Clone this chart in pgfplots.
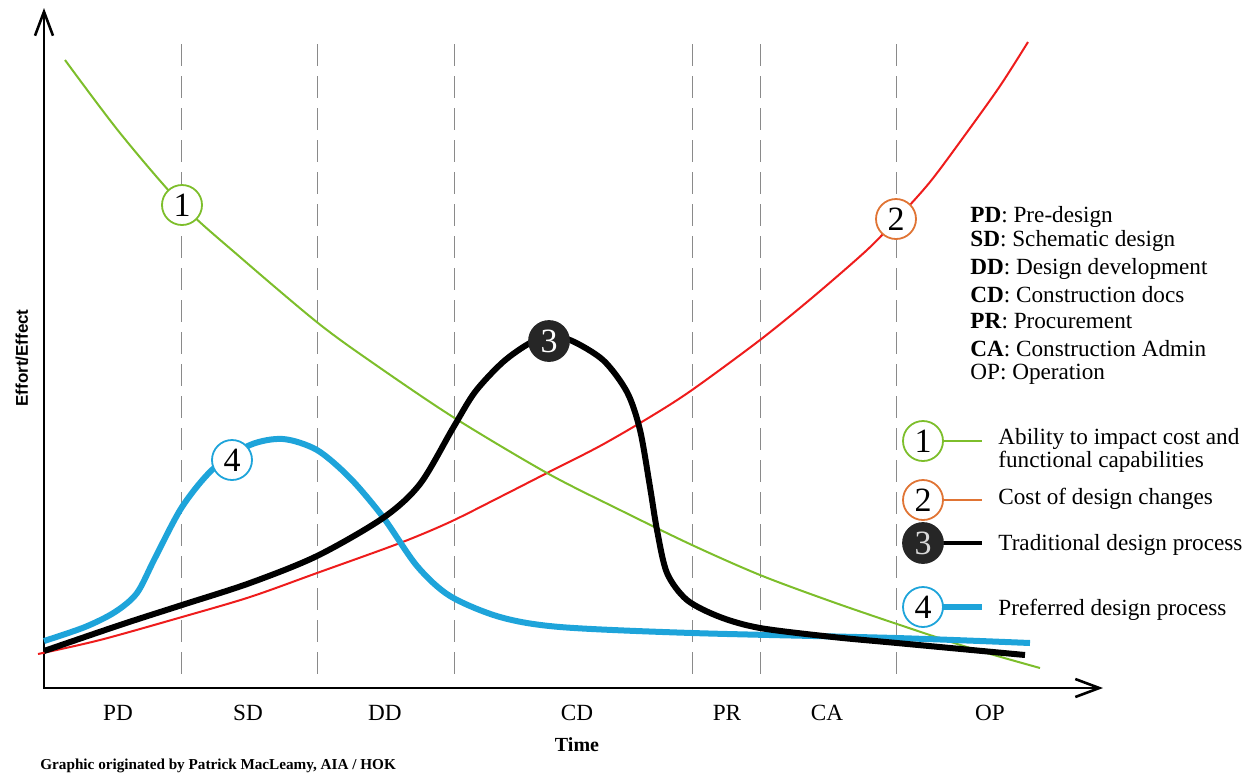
\documentclass[border=0pt]{standalone}
\usepackage{pgfplots}
\pgfplotsset{compat=1.18}
\usepackage{fontspec}
\setmainfont{Liberation Serif}
\newfontfamily\arialfont{Liberation Sans}
\usetikzlibrary{arrows.meta}

\definecolor{cgreen}{HTML}{7DBE2B}
\definecolor{cred}{HTML}{EE1C1C}
\definecolor{corange}{HTML}{E07434}
\definecolor{cblue}{HTML}{1EA4DA}
\definecolor{cdark}{HTML}{262626}
\definecolor{cdash}{HTML}{8A8A8A}

\begin{document}
\begin{tikzpicture}
\begin{axis}[
  scale only axis, width=627.5pt, height=386.5pt,
  xmin=0, xmax=1255, ymin=0, ymax=773, y dir=reverse,
  axis lines=none, clip=false, ticks=none,
  every axis plot/.append style={smooth, tension=0.5, mark=none},
]
\path (axis cs:0,0) rectangle (axis cs:1255,773);

% phase separators
\pgfplotsinvokeforeach{181,317,454,692,760,896}{
  \addplot[cdash, line width=0.5pt, dash pattern=on 11pt off 5pt, sharp plot] coordinates {(#1,44) (#1,680)};
}

% axes
\draw[line width=1.3pt, -{Straight Barb[length=12pt,width=9pt,line width=1.3pt]}] (axis cs:44,688) -- (axis cs:44,8);
\draw[line width=1.3pt, -{Straight Barb[length=12pt,width=9pt,line width=1.3pt]}] (axis cs:43,688) -- (axis cs:1103,688);

% 2: cost of design changes
\addplot[cred, line width=1pt] coordinates {
(38,654) (100,640) (182,617) (250,597) (317,573) (400,543) (450,522) (500,497)
(547,473) (600,446) (650,417) (692,390) (760,340) (813,297) (867,250) (896,220)
(930,182) (965,135) (1000,86) (1028,42)};

% 1: ability to impact cost
\addplot[cgreen, line width=1pt] coordinates {
(65,60) (120,133) (182,205) (240,257) (318,323) (373,363) (453,417) (547,473)
(620,510) (692,545) (760,575) (830,601) (897,624) (970,648) (1040,668)};

% 4: preferred design process
\addplot[cblue, line width=3pt] coordinates {
(44,641) (85,627) (115,612) (137,593) (155,558) (182,507) (213,469) (250,445)
(283,439) (317,450) (350,478) (383,517) (417,566) (450,596) (500,617) (560,627)
(692,633) (896,638) (1030,643)};

% 3: traditional design process
\addplot[black, line width=3pt] coordinates {
(44,651) (120,625) (182,605) (250,583) (317,556) (383,518) (420,484) (453,428)
(475,392) (503,362) (530,343) (549,338) (570,340) (603,360) (627,392) (640,430)
(650,487) (657,530) (667,573) (687,600) (720,617) (760,628) (833,637) (897,643)
(1025,655)};

% curve labels
\tikzset{num/.style={circle, draw, line width=0.9pt, fill=white, minimum size=20pt, inner sep=0pt, font=\fontsize{17}{17}\selectfont}}
\node[num, draw=cgreen] at (axis cs:182,205) {1};
\node[num, draw=corange] at (axis cs:896,219) {2};
\node[num, draw=cdark, fill=cdark, text=white] at (axis cs:549,341) {3};
\node[num, draw=cblue] at (axis cs:232,460) {4};

% legend
\draw[cgreen, line width=1pt] (axis cs:940,441) -- (axis cs:982,441);
\draw[corange, line width=1pt] (axis cs:940,500) -- (axis cs:982,500);
\draw[black, line width=2.2pt] (axis cs:940,543) -- (axis cs:982,543);
\draw[cblue, line width=2.8pt] (axis cs:940,607) -- (axis cs:982,607);
\node[num, draw=cgreen] at (axis cs:923,441) {1};
\node[num, draw=corange] at (axis cs:923,500) {2};
\node[num, draw=cdark, fill=cdark, text=white!85!black] at (axis cs:923,543) {3};
\node[num, draw=cblue] at (axis cs:923,607) {4};

\begin{scope}[every node/.style={anchor=base west, inner sep=0pt, font=\fontsize{11.6}{13}\selectfont}]
\node[align=left] at (axis cs:998,467) {Ability to impact cost and\\[-1.6pt]functional capabilities};
\node at (axis cs:998,504) {Cost of design changes};
\node at (axis cs:998,550) {Traditional design process};
\node at (axis cs:998,615) {Preferred design process};

\node at (axis cs:970,222) {\textbf{PD}: Pre-design};
\node at (axis cs:970,246) {\textbf{SD}: Schematic design};
\node at (axis cs:970,274) {\textbf{DD}: Design development};
\node at (axis cs:970,302) {\textbf{CD}: Construction docs};
\node at (axis cs:970,328) {\textbf{PR}: Procurement};
\node at (axis cs:970,356) {\textbf{CA}: Construction Admin};
\node at (axis cs:970,379) {OP: Operation};
\end{scope}

% phase names
\begin{scope}[every node/.style={anchor=base, inner sep=0pt, font=\fontsize{11.6}{13}\selectfont}]
\node at (axis cs:118,720) {PD};
\node at (axis cs:248,720) {SD};
\node at (axis cs:385,720) {DD};
\node at (axis cs:577,720) {CD};
\node at (axis cs:727,720) {PR};
\node at (axis cs:827,720) {CA};
\node at (axis cs:990,720) {OP};
\end{scope}

\node[anchor=base, inner sep=0pt, font=\fontsize{10}{12}\selectfont\bfseries] at (axis cs:577,751) {Time};
\node[rotate=90, inner sep=0pt, font=\arialfont\fontsize{8.5}{10}\selectfont\bfseries] at (axis cs:22,358) {Effort/Effect};
\node[anchor=base west, inner sep=0pt, font=\fontsize{7.6}{9}\selectfont\bfseries] at (axis cs:40,769) {Graphic originated by Patrick MacLeamy, AIA / HOK};
\end{axis}
\end{tikzpicture}
\end{document}
